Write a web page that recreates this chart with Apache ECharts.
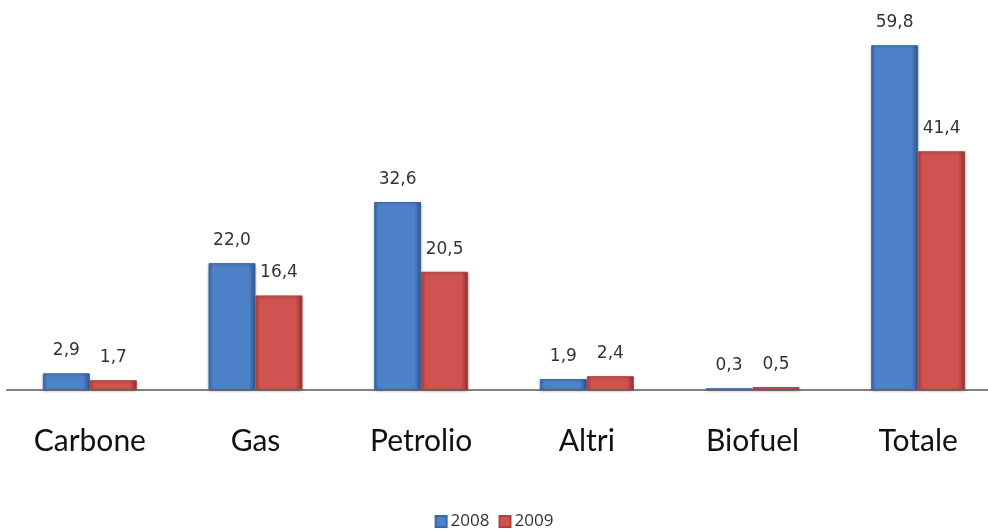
<!DOCTYPE html>
<html>
<head>
<meta charset="utf-8">
<script src="https://cdn.jsdelivr.net/npm/echarts@6/dist/echarts.min.js"></script>
<style>
  html, body { margin: 0; padding: 0; background: #ffffff; }
  #chart { width: 988px; height: 531px; }
</style>
</head>
<body>
<div id="chart"></div>
<script>
// Emissioni per fonte, confronto 2008 / 2009
const categories = ['Carbone', 'Gas', 'Petrolio', 'Altri', 'Biofuel', 'Totale'];
const values2008 = [2.9, 22.0, 32.6, 1.9, 0.3, 59.8];
const values2009 = [1.7, 16.4, 20.5, 2.4, 0.5, 41.4];
const seriesNames = ['2008', '2009'];

// bevelled look: darker edges (right side darkest), lighter middle
function bevel(left, mid, right) {
  return new echarts.graphic.LinearGradient(0, 0, 1, 0, [
    { offset: 0, color: left },
    { offset: 0.1, color: mid },
    { offset: 0.85, color: mid },
    { offset: 1, color: right }
  ]);
}

const fmt = p => p.value.toFixed(1).replace('.', ',');

const labelStyle = {
  show: true,
  position: 'top',
  distance: 14,
  formatter: fmt,
  fontFamily: 'DejaVu Sans',
  fontSize: 17,
  color: '#333333'
};

const chart = echarts.init(document.getElementById('chart'), null, { renderer: 'canvas' });
chart.setOption({
  animation: false,
  backgroundColor: '#ffffff',
  grid: {
    left: 7, width: 994, top: 44, bottom: 141,
    containLabel: false,
    outerBoundsMode: 'none'
  },
  legend: {
    top: 508,
    left: 'center',
    itemWidth: 11,
    itemHeight: 11,
    itemGap: 9,
    icon: 'rect',
    textStyle: { fontFamily: 'Open Sans', fontSize: 17, color: '#333333', padding: [0, 0, 0, -1] },
    data: seriesNames
  },
  xAxis: {
    type: 'category',
    data: categories,
    axisLine: { lineStyle: { color: '#808080', width: 2 } },
    axisTick: { show: false },
    axisLabel: {
      margin: 36,
      fontFamily: 'Lato',
      fontSize: 30,
      color: '#111111'
    }
  },
  yAxis: {
    type: 'value',
    min: 0,
    max: 60,
    show: false,
    splitLine: { show: false }
  },
  series: [
    {
      name: seriesNames[0],
      type: 'bar',
      data: values2008,
      barWidth: 47,
      barGap: '0%',
      itemStyle: {
        color: bevel('#3b68a6', '#4e82c8', '#2f5790'),
        borderColor: '#3a68a6',
        borderWidth: 1,
        shadowColor: 'rgba(0,0,0,0.25)',
        shadowBlur: 3,
        shadowOffsetY: 1
      },
      label: labelStyle
    },
    {
      name: seriesNames[1],
      type: 'bar',
      data: values2009,
      barWidth: 47,
      itemStyle: {
        color: bevel('#b0413e', '#cf5350', '#96322f'),
        borderColor: '#ac423f',
        borderWidth: 1,
        shadowColor: 'rgba(0,0,0,0.25)',
        shadowBlur: 3,
        shadowOffsetY: 1
      },
      label: labelStyle
    }
  ]
});
</script>
</body>
</html>
